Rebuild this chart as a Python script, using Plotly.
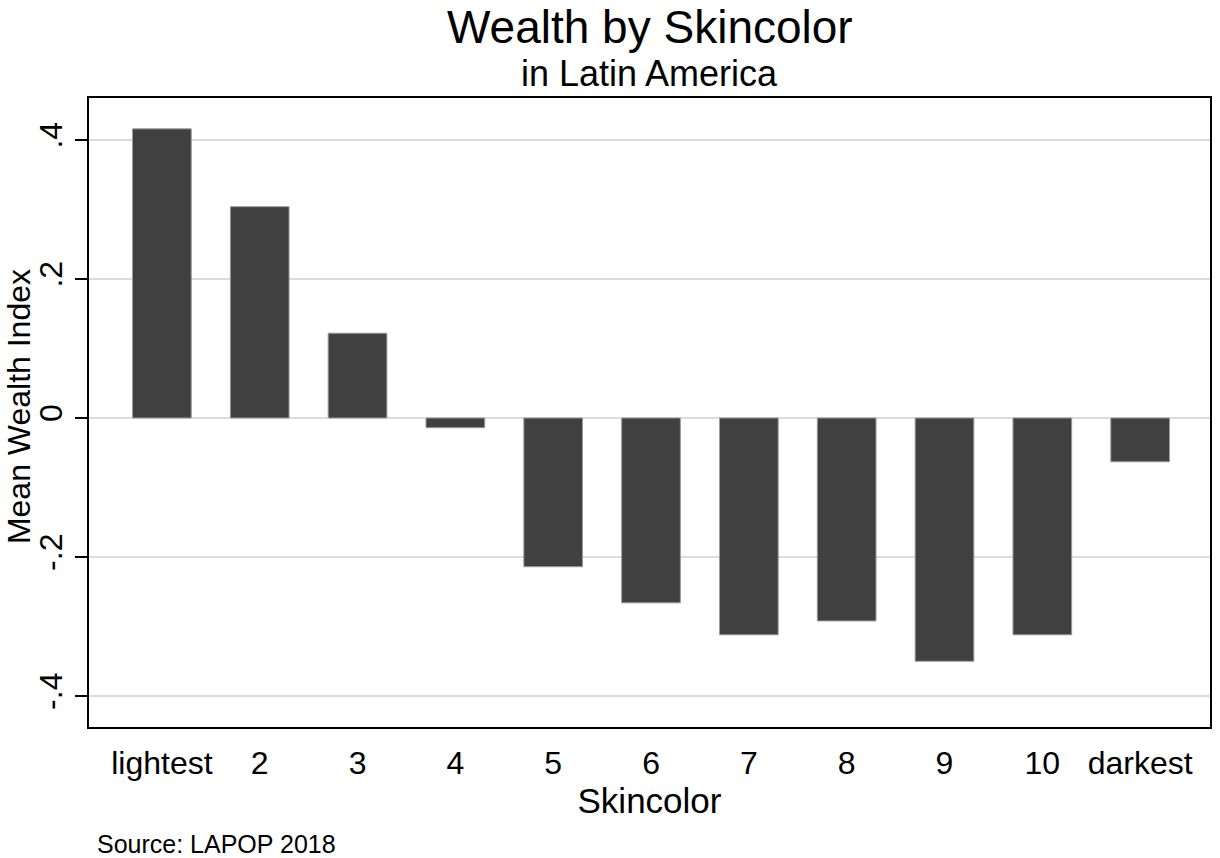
import plotly.graph_objects as go

categories = ["lightest", "2", "3", "4", "5", "6", "7", "8", "9", "10", "darkest"]
mean_wealth = [0.416, 0.304, 0.122, -0.014, -0.214, -0.266, -0.312, -0.292, -0.350, -0.312, -0.063]
ytick_vals = [-0.4, -0.2, 0, 0.2, 0.4]
ytick_text = ["-.4", "-.2", "0", ".2", ".4"]

FONT = "Liberation Sans, Arial, sans-serif"

fig = go.Figure()
fig.add_trace(go.Bar(
    x=categories, y=mean_wealth, width=0.6,
    marker=dict(color="#404040", line=dict(color="#9a9a9a", width=1)),
    showlegend=False,
))

fig.update_layout(
    width=1220, height=858,
    margin=dict(l=89, r=8, t=98, b=131),
    paper_bgcolor="white", plot_bgcolor="white",
    font=dict(family=FONT, color="black"),
    bargap=0.4,
)

fig.update_xaxes(
    type="category", range=[-0.745, 10.714],
    showline=True, linecolor="black", linewidth=2, mirror=True,
    showgrid=False, ticks="", ticklabelstandoff=7,
    tickfont=dict(size=32, family=FONT, color="black"),
    title=dict(text="Skincolor", font=dict(size=35, family=FONT, color="black"), standoff=2),
)
fig.update_yaxes(
    range=[-0.4446, 0.4604],
    tickvals=ytick_vals, ticktext=ytick_text, tickangle=-90,
    ticks="outside", ticklen=12, tickwidth=2, tickcolor="black",
    tickfont=dict(size=32, family=FONT, color="black"),
    showline=True, linecolor="black", linewidth=2, mirror=True,
    showgrid=True, gridcolor="#dcdcdc", gridwidth=2, zeroline=False,
)

fig.add_annotation(text="Mean Wealth Index", xref="paper", yref="paper",
                   x=(19 - 89) / 1123, y=(727 - 407) / 629, xanchor="center", yanchor="middle",
                   textangle=-90, showarrow=False,
                   font=dict(size=32, family=FONT, color="black"))
fig.add_annotation(text="Wealth by Skincolor", xref="paper", yref="paper",
                   x=0.5, y=(727 - 27) / 629, xanchor="center", yanchor="middle", showarrow=False,
                   font=dict(size=46, family=FONT, color="black"))
fig.add_annotation(text="in Latin America", xref="paper", yref="paper",
                   x=0.5, y=(727 - 73) / 629, xanchor="center", yanchor="middle", showarrow=False,
                   font=dict(size=36, family=FONT, color="black"))
fig.add_annotation(text="Source: LAPOP 2018", xref="paper", yref="paper",
                   x=(95 - 89) / 1123, y=(727 - 844) / 629, xanchor="left", yanchor="middle",
                   showarrow=False, font=dict(size=25, family=FONT, color="black"))

fig.write_html("out.html")
